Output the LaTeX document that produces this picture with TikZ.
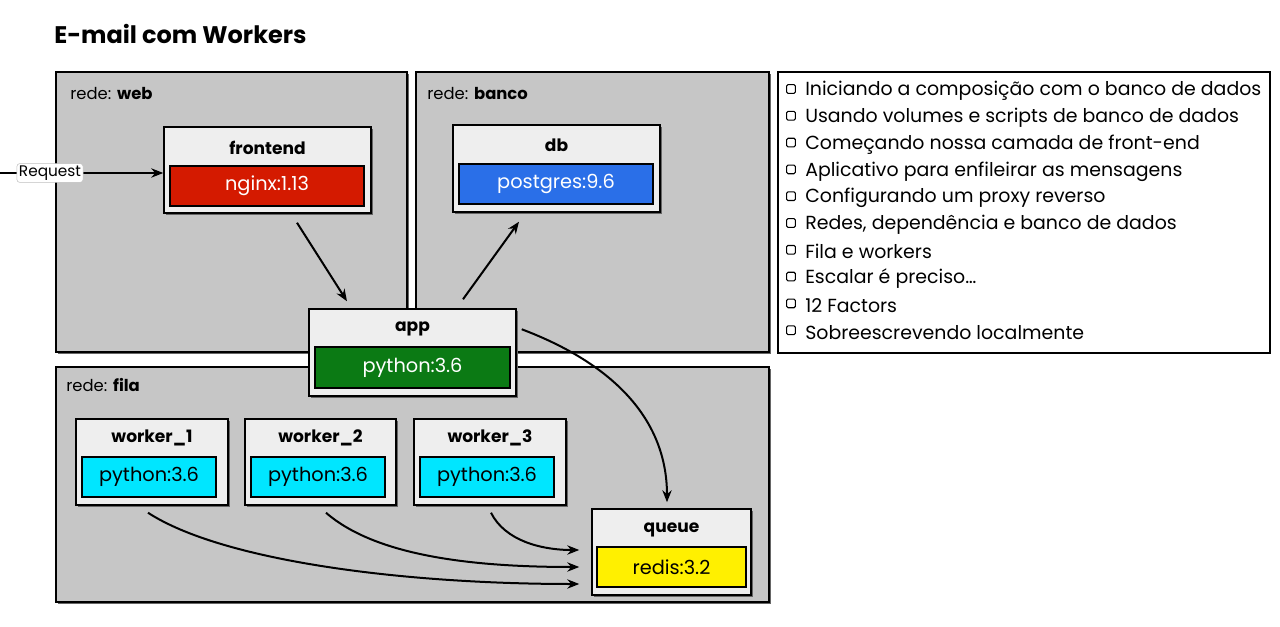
\documentclass[tikz,border=0pt]{standalone}
\usepackage{fontspec}
\setmainfont{Poppins}
\usetikzlibrary{arrows.meta,fit,calc}
\definecolor{netgray}{HTML}{C6C6C6}
\definecolor{boxgray}{HTML}{EEEEEE}
\definecolor{cred}{HTML}{D41A00}
\definecolor{cblue}{HTML}{2A6FE8}
\definecolor{cgreen}{HTML}{0B7A14}
\definecolor{ccyan}{HTML}{00E6FF}
\definecolor{cyellow}{HTML}{FFF000}
\tikzset{
  net/.style={draw=black, line width=1.5pt, fill=netgray, inner sep=0pt},
  svc/.style={draw=black, line width=1.1pt, fill=boxgray, inner sep=0pt},
  img/.style={draw=black, line width=1.1pt, inner sep=0pt, text=#1},
  shadowbox/.style={fill=black!60, draw=none},
  nettext/.style={anchor=west, font=\fontsize{12.3}{14}\selectfont, inner sep=0pt},
  svctext/.style={font=\bfseries\fontsize{12.8}{15}\selectfont, inner sep=0pt},
  imgtext/.style={font=\fontsize{14.5}{17}\selectfont, inner sep=0pt, text=#1},
  arr/.style={line width=1.5pt, -{Stealth[length=9pt,width=7pt]}},
  item/.style={anchor=west, font=\fontsize{14.2}{17}\selectfont, inner sep=0pt},
  chk/.style={draw=black, line width=0.8pt, rounded corners=1pt, minimum size=6.5pt, inner sep=0pt}
}
\begin{document}
\begin{tikzpicture}[x=0.75pt,y=-0.75pt]
\useasboundingbox (0,0) rectangle (1280,627);
\fill[white] (0,0) rectangle (1280,627);
% title
\node[anchor=west, font=\bfseries\fontsize{18}{21}\selectfont, inner sep=0pt] (title) at (54,34) {E-mail com Workers};
% network shadows
\fill[shadowbox] (58,74) rectangle (409,354);
\fill[shadowbox] (418,74) rectangle (771,354);
\fill[shadowbox] (58,369) rectangle (771,604);
% networks
\node[net, fit={(56,72)(407,352)}] (web) {};
\node[net, fit={(416,72)(769,352)}] (banco) {};
\node[net, fit={(56,367)(769,602)}] (fila) {};
\node[nettext] (webl) at (70,94) {rede: \textbf{web}};
\node[nettext] (bancol) at (427,94) {rede: \textbf{banco}};
\node[nettext] (filal) at (66,385) {rede: \textbf{fila}};
% list
\node[draw=black, line width=1.3pt, fill=white, fit={(778,72)(1270,353)}, inner sep=0pt] (list) {};
\foreach \t [count=\i] in {Iniciando a composição com o banco de dados,Usando volumes e scripts de banco de dados,Começando nossa camada de front-end,Aplicativo para enfileirar as mensagens,Configurando um proxy reverso,{Redes, dependência e banco de dados},Fila e workers,Escalar é preciso…,12 Factors,Sobreescrevendo localmente}{
  \node[chk] (c\i) at (791,{90+(\i-1)*26.8-1}) {};
  \node[item] (t\i) at (805,{91+(\i-1)*26.8}) {\t};
}
% service boxes (shadows)
\foreach \a/\b/\c/\d in {164/127/371/213,453/125/660/212,309/309/516/396,76/419/228/505,245/419/396/505,414/419/566/505,592/509/751/595}{
  \fill[shadowbox] (\a+2,\b+2) rectangle (\c+2,\d+2);
}
% frontend
\node[svc, fit={(164,127)(371,213)}] (frontend) {};
\node[svctext] (frontendl) at (267.5,148) {frontend};
\node[img=white, fill=cred, fit={(170,166)(364,206)}] (nginx) {};
\node[imgtext=white] (nginxl) at (nginx.center) {nginx:1.13};
% db
\node[svc, fit={(453,125)(660,212)}] (db) {};
\node[svctext] (dbl) at (556.5,145) {db};
\node[img=white, fill=cblue, fit={(459,164)(653,204)}] (pg) {};
\node[imgtext=white] (pgl) at (pg.center) {postgres:9.6};
% app
\node[svc, fit={(309,309)(516,396)}] (app) {};
\node[svctext] (appl) at (412.5,329) {app};
\node[img=white, fill=cgreen, fit={(315,347)(510,388)}] (py) {};
\node[imgtext=white] (pyl) at (py.center) {python:3.6};
% workers
\node[svc, fit={(76,419)(228,505)}] (w1) {};
\node[svctext] (w1l) at (152,438) {worker\_1};
\node[img=black, fill=ccyan, fit={(82,457)(216,497)}] (w1i) {};
\node[imgtext=black] (w1t) at (w1i.center) {python:3.6};
\node[svc, fit={(245,419)(396,505)}] (w2) {};
\node[svctext] (w2l) at (320.5,438) {worker\_2};
\node[img=black, fill=ccyan, fit={(251,457)(385,497)}] (w2i) {};
\node[imgtext=black] (w2t) at (w2i.center) {python:3.6};
\node[svc, fit={(414,419)(566,505)}] (w3) {};
\node[svctext] (w3l) at (490,438) {worker\_3};
\node[img=black, fill=ccyan, fit={(420,457)(554,497)}] (w3i) {};
\node[imgtext=black] (w3t) at (w3i.center) {python:3.6};
% queue
\node[svc, fit={(592,509)(751,595)}] (queue) {};
\node[svctext] (queuel) at (671.5,530) {queue};
\node[img=black, fill=cyellow, fit={(597,547)(746,587)}] (redis) {};
\node[imgtext=black] (redisl) at (redis.center) {redis:3.2};
% request
\coordinate (src) at (0,173);
\draw[arr] (src) -- (frontend.west |- src);
\node[fill=white, draw=black!25, rounded corners=2pt, inner sep=1.5pt, font=\fontsize{11.5}{13}\selectfont] (req) at (50,173) {Request};
% connectors
\draw[arr] ($(frontend.south)+(29.5,9)$) -- ($(app.north)+(-65.5,-7)$);
\draw[arr] ($(app.north)+(50.5,-9)$) -- ($(db.south)+(-37.5,9)$);
\draw[arr] ($(app.north east)+(5,21)$) .. controls ($(app.north east)+(95,55)$) and ($(queue.north)+(-4.5,-90)$) .. ($(queue.north)+(-4.5,-6)$);
\draw[arr] ($(w1.south)+(-4,7)$) .. controls ($(w1.south)+(70,55)$) and ($(queue.west)+(-190,32)$) .. ($(queue.west)+(-12,32)$);
\draw[arr] ($(w2.south)+(5.5,7)$) .. controls ($(w2.south)+(55,50)$) and ($(queue.west)+(-120,15)$) .. ($(queue.west)+(-12,15)$);
\draw[arr] ($(w3.south)+(1,7)$) .. controls ($(w3.south)+(15,35)$) and ($(queue.west)+(-50,-2)$) .. ($(queue.west)+(-12,-2)$);
\end{tikzpicture}
\end{document}
